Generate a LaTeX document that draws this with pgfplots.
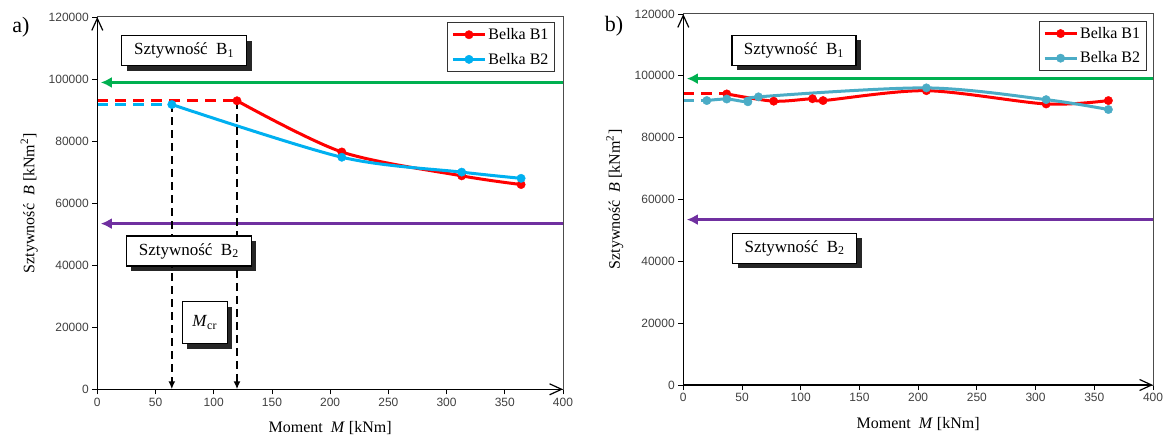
\documentclass[border=0pt]{standalone}
\usepackage{fontspec}
\setmainfont{Liberation Serif}
\newfontfamily\tickfont{Liberation Sans}
\usepackage{pgfplots}
\pgfplotsset{compat=1.18}
\usetikzlibrary{arrows.meta,shadows}

\definecolor{xred}{RGB}{255,0,0}
\definecolor{xcyan}{RGB}{0,176,240}
\definecolor{xblue}{RGB}{75,172,198}
\definecolor{xgreen}{RGB}{0,176,80}
\definecolor{xpurple}{RGB}{112,48,160}

\pgfplotsset{
  panel/.style={
    scale only axis, anchor=south west,
    xmin=0, xmax=400, ymin=0, ymax=120000,
    xtick={0,50,...,400}, ytick={0,20000,...,120000},
    scaled y ticks=false,
    yticklabel style={/pgf/number format/fixed, /pgf/number format/1000 sep={}},
    /pgf/number format/assume math mode=true,
    tick align=outside, tick pos=left, major tick length=5pt,
    tick style={black, line width=0.8pt},
    ticklabel style={font=\fontsize{12}{12}\tickfont, text=black!75},
    axis line style={gray!60!black, line width=1pt},
    clip=false,
    xlabel={Moment\ \ \textit{M} [kNm]},
    ylabel={Sztywność\ \ \textit{B} [kNm\textsuperscript{2}]},
    every axis x label/.style={at={(axis description cs:0.5,-0.105)}, anchor=center,
      font=\fontsize{16}{16}\selectfont},
    every axis y label/.style={at={(axis description cs:-0.146,0.5)}, rotate=90, anchor=center,
      font=\fontsize{16}{16}\selectfont},
    legend style={font=\fontsize{16}{16}\selectfont, draw=black!80, line width=1.2pt,
      inner xsep=4pt, inner ysep=4pt, row sep=8pt, cells={anchor=west}},
    legend image code/.code={\draw[mark repeat=2, mark phase=2, #1]
      plot coordinates {(0pt,0pt) (16pt,0pt) (32pt,0pt)};},
  },
  dashext/.style={line width=3pt, dash pattern=on 11pt off 7pt, forget plot},
  beam/.style={line width=3pt, smooth, mark=*, mark size=4.2pt,
    mark options={solid, line width=0.4pt, fill=#1, draw=#1}, color=#1},
}
\tikzset{
  box/.style={draw=black, line width=1.2pt, fill=white,
    drop shadow={shadow xshift=5pt, shadow yshift=-5pt, fill=black, opacity=0.85},
    font=\fontsize{17}{17}\selectfont},
  hline/.style={line width=3pt, -{Latex[length=11pt,width=11pt]}},
  axarrow/.style={black, line width=1.2pt, -{Straight Barb[length=12pt,width=11pt]}},
  vdash/.style={black, line width=2pt, dash pattern=on 8pt off 5pt, -{Latex[length=8pt,width=7pt]}},
}

\begin{document}
\begin{tikzpicture}
\path[use as bounding box] (0,0) rectangle (1169pt,437pt);

% a) cracked beam stiffness
\begin{axis}[panel, at={(97.3pt,47.7pt)}, width=465.7pt, height=372.3pt,
  legend style={at={(0.983,0.987)}, anchor=north east}]
\addplot[xred, dashext] coordinates {(0,93000) (120,93000)};
\addplot[xcyan, dashext] coordinates {(0,91800) (64,91800)};
\addplot[beam=xred] coordinates {(120,93000) (210,76500) (313,68800) (364,66000)};
\addplot[beam=xcyan] coordinates {(64,91800) (210,74800) (313,70000) (364,68000)};
\legend{Belka B1, Belka B2}
\draw[axarrow] (axis cs:0,0) -- (axis cs:0,120000);
\draw[axarrow] (axis cs:0,0) -- (axis cs:400,0);
\draw[xgreen, hline] (axis cs:400,98900) -- (axis cs:3,98900);
\draw[xpurple, hline] (axis cs:400,53400) -- (axis cs:3,53400);
\draw[vdash] (axis cs:64,91800) -- (axis cs:64,0);
\draw[vdash] (axis cs:120,93000) -- (axis cs:120,0);
\node[box, minimum width=125pt, minimum height=30pt] at (axis cs:74.5,109200) {Sztywność\ \ B\textsubscript{1}};
\node[box, minimum width=125pt, minimum height=30pt] at (axis cs:78.6,44550) {Sztywność\ \ B\textsubscript{2}};
\node[box, minimum width=45pt, minimum height=42pt] at (axis cs:92.2,21530) {\textit{M}\textsubscript{cr}};
\end{axis}

% b) uncracked beam stiffness
\begin{axis}[panel, at={(683.3pt,52pt)}, width=469.7pt, height=371pt,
  legend style={at={(0.9866,0.982)}, anchor=north east}]
\addplot[xred, dashext] coordinates {(0,94150) (37,94150)};
\addplot[xblue, dashext] coordinates {(0,92000) (20,92000)};
\addplot[beam=xred] coordinates {(37,94150) (77,91800) (110,92600) (119,92000) (207,95200) (309,90900) (362,92000)};
\addplot[beam=xblue] coordinates {(20,92000) (37,92500) (55,91600) (64,93200) (207,96100) (309,92300) (362,89100)};
\legend{Belka B1, Belka B2}
\draw[axarrow] (axis cs:0,0) -- (axis cs:0,120000);
\draw[axarrow] (axis cs:0,0) -- (axis cs:400,0);
\draw[xgreen, hline] (axis cs:400,99100) -- (axis cs:3,99100);
\draw[xpurple, hline] (axis cs:400,53500) -- (axis cs:3,53500);
\node[box, minimum width=124pt, minimum height=30pt] at (axis cs:94.2,108200) {Sztywność\ \ B\textsubscript{1}};
\node[box, minimum width=124pt, minimum height=30pt] at (axis cs:94.8,44220) {Sztywność\ \ B\textsubscript{2}};
\end{axis}

\node[font=\fontsize{22}{22}\selectfont] at (21pt,410pt) {a)};
\node[font=\fontsize{22}{22}\selectfont] at (614pt,411pt) {b)};
\end{tikzpicture}
\end{document}
